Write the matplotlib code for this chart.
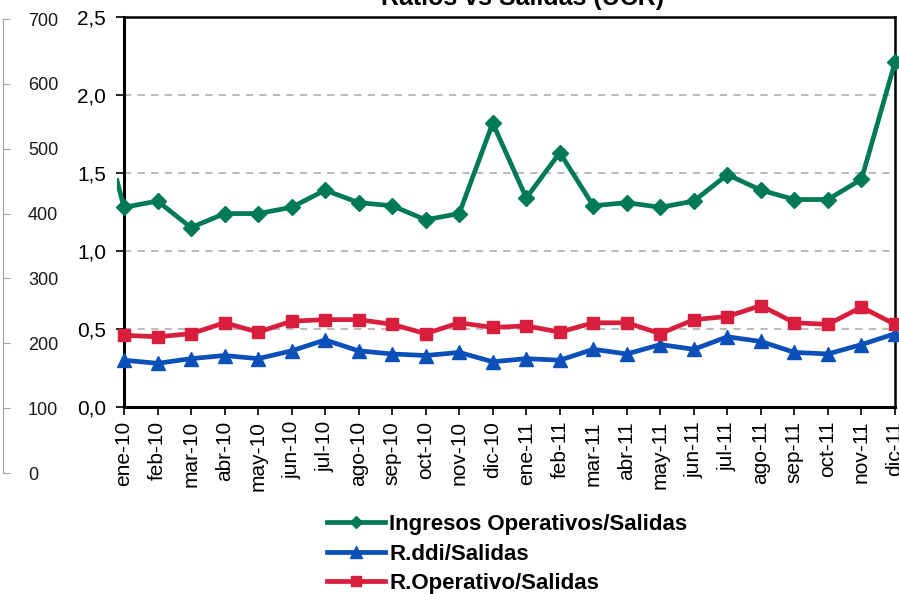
import matplotlib
matplotlib.use("Agg")
import matplotlib.pyplot as plt
from matplotlib.patches import Rectangle
from matplotlib.ticker import FuncFormatter

plt.rcParams["font.family"] = ["Liberation Sans", "DejaVu Sans"]

# data
meses = ["ene-10", "feb-10", "mar-10", "abr-10", "may-10", "jun-10", "jul-10", "ago-10",
         "sep-10", "oct-10", "nov-10", "dic-10", "ene-11", "feb-11", "mar-11", "abr-11",
         "may-11", "jun-11", "jul-11", "ago-11", "sep-11", "oct-11", "nov-11", "dic-11"]
ingresos_op = [1.28, 1.32, 1.15, 1.24, 1.24, 1.28, 1.39, 1.31, 1.29, 1.20, 1.24, 1.82,
               1.34, 1.63, 1.29, 1.31, 1.28, 1.32, 1.49, 1.39, 1.33, 1.33, 1.46, 2.21]
r_ddi = [0.30, 0.28, 0.31, 0.33, 0.31, 0.36, 0.43, 0.36, 0.34, 0.33, 0.35, 0.29,
         0.31, 0.30, 0.37, 0.34, 0.40, 0.37, 0.45, 0.42, 0.35, 0.34, 0.40, 0.47]
r_operativo = [0.46, 0.45, 0.47, 0.54, 0.48, 0.55, 0.56, 0.56, 0.53, 0.47, 0.54, 0.51,
               0.52, 0.48, 0.54, 0.54, 0.47, 0.56, 0.58, 0.65, 0.54, 0.53, 0.64, 0.53]
ingresos_prev = 2.1  # dic-09, only a stub of it shows
ghost_ticks = [0, 100, 200, 300, 400, 500, 600, 700]

VERDE = "#007a56"
AZUL = "#0a50b8"
ROJO = "#d81e3c"

W, H = 899, 594
fig = plt.figure(figsize=(W / 100, H / 100), dpi=100)

# leftover axis from another chart, sitting at the far left
ax0 = fig.add_axes([3 / W, 1 - 473 / H, 0.0001, (473 - 19) / H])
ax0.set_ylim(0, 700)
ax0.set_yticks(ghost_ticks)
ax0.set_xticks([])
for s in ["left", "top", "bottom"]:
    ax0.spines[s].set_visible(False)
ax0.spines["right"].set_color("#a0a0a0")
ax0.yaxis.tick_right()
ax0.tick_params(axis="y", direction="out", length=5, color="#a0a0a0",
                labelsize=13, pad=13, labelcolor="#1a1a1a")
ax0.patch.set_visible(False)

ax = fig.add_axes([124 / W, 1 - 407 / H, (895 - 124) / W, (407 - 17) / H])
x = list(range(len(meses)))

ax.plot(x, ingresos_op, color=VERDE, lw=3.4, marker="D", ms=8, clip_on=False,
        zorder=5, label="Ingresos Operativos/Salidas")
ax.plot(x, r_ddi, color=AZUL, lw=3.4, marker="^", ms=10, clip_on=False,
        zorder=4, label="R.ddi/Salidas")
ax.plot(x, r_operativo, color=ROJO, lw=3.4, marker="s", ms=9, clip_on=False,
        zorder=4, label="R.Operativo/Salidas")

# stub of the segment coming from the previous month
stub, = ax.plot([-1, 0], [ingresos_prev, ingresos_op[0]], color=VERDE, lw=3.4, zorder=5)
stub.set_clip_box(None)
stub.set_clip_path(Rectangle((-0.21, 0), 0.21, 1.47, transform=ax.transData))

ax.set_xlim(0, len(meses) - 1)
ax.set_ylim(0, 2.5)
ax.set_yticks([0, 0.5, 1.0, 1.5, 2.0, 2.5])
ax.yaxis.set_major_formatter(FuncFormatter(lambda v, p: f"{v:.1f}".replace(".", ",")))
ax.set_xticks(x)
ax.set_xticklabels(meses, rotation=90)
ax.tick_params(axis="y", direction="out", length=6, width=1.2, labelsize=15, pad=7)
ax.tick_params(axis="x", direction="out", length=6, width=1.2, labelsize=15, pad=4)
ax.grid(axis="y", color="#b4b4b4", linestyle=(0, (4, 3.5)), lw=1.3)
ax.set_axisbelow(True)
for s in ax.spines.values():
    s.set_linewidth(1.8)
ax.spines["left"].set_linewidth(2.2)
ax.spines["bottom"].set_linewidth(2.2)

fig.text(523 / W, 1 - 5 / H, "Ratios vs Salidas (UCR)", ha="center", va="baseline",
         fontsize=18, fontweight="bold")

handles, labels = ax.get_legend_handles_labels()
leg = fig.legend(handles, labels, loc="upper left", bbox_to_anchor=(316 / W, 1 - 503 / H),
                 frameon=False, prop={"size": 16, "weight": "bold"},
                 handlelength=2.6, handletextpad=0.2, labelspacing=0.38, borderpad=0,
                 markerscale=0.8)

fig.savefig("out.png", dpi=100)
